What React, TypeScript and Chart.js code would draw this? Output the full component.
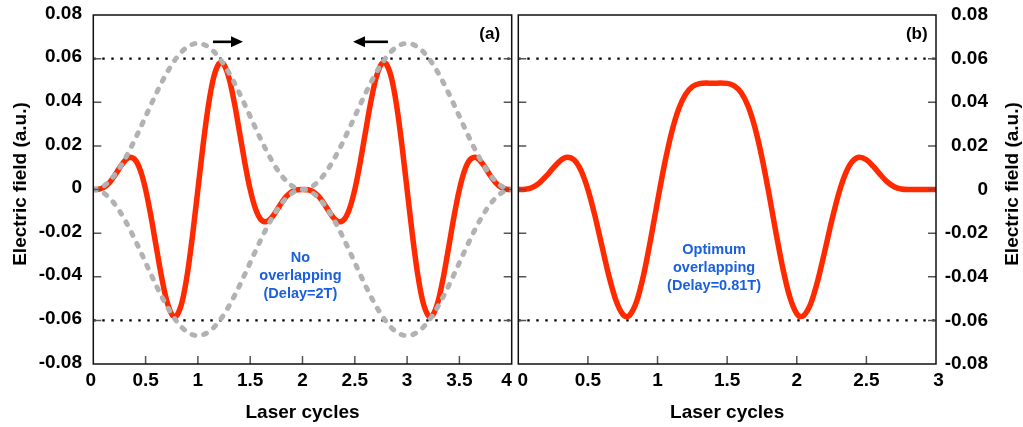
import { useEffect, useRef } from 'react';
import { Chart, registerables } from 'chart.js';

Chart.register(...registerables);

const FONT = '"Liberation Sans", Arial, Helvetica, sans-serif';
const RED = '#ff2a00';
const GRAY = 'rgb(178,178,178)';
const BLUE = '#1a5fdc';

// ---------- Panel (a): No overlapping (Delay = 2T) ----------
const xTicksA = [0, 0.5, 1, 1.5, 2, 2.5, 3, 3.5, 4];
const yTicks = [-0.08, -0.06, -0.04, -0.02, 0, 0.02, 0.04, 0.06, 0.08];
const refLevels = [0.06, -0.06];

const redA: [number, number][] = [
  [0, 0], [0.05, 0.000127], [0.1, 0.000964], [0.15, 0.002954], [0.2, 0.006085], [0.25, 0.009812],
  [0.3, 0.013133], [0.35, 0.014798], [0.4, 0.013606], [0.45, 0.008733], [0.5, 0], [0.55, -0.011971],
  [0.6, -0.025776], [0.65, -0.039407], [0.7, -0.050588], [0.75, -0.057188], [0.78, -0.05826], [0.8, -0.057636],
  [0.85, -0.051251], [0.9, -0.038419], [0.95, -0.020577], [1, 0], [1.05, 0.020577], [1.1, 0.038419],
  [1.15, 0.051251], [1.2, 0.057636], [1.22, 0.05826], [1.25, 0.057188], [1.3, 0.050588], [1.35, 0.039407],
  [1.4, 0.025776], [1.45, 0.011971], [1.5, 0], [1.55, -0.008733], [1.6, -0.013606], [1.65, -0.014798],
  [1.7, -0.013133], [1.75, -0.009812], [1.8, -0.006085], [1.85, -0.002954], [1.9, -0.000964], [1.95, -0.000127],
  [2, 0], [2.05, -0.000127], [2.1, -0.000964], [2.15, -0.002954], [2.2, -0.006085], [2.25, -0.009812],
  [2.3, -0.013133], [2.35, -0.014798], [2.4, -0.013606], [2.45, -0.008733], [2.5, 0], [2.55, 0.011971],
  [2.6, 0.025776], [2.65, 0.039407], [2.7, 0.050588], [2.75, 0.057188], [2.78, 0.05826], [2.8, 0.057636],
  [2.85, 0.051251], [2.9, 0.038419], [2.95, 0.020577], [3, 0], [3.05, -0.020577], [3.1, -0.038419],
  [3.15, -0.051251], [3.2, -0.057636], [3.22, -0.05826], [3.25, -0.057188], [3.3, -0.050588], [3.35, -0.039407],
  [3.4, -0.025776], [3.45, -0.011971], [3.5, 0], [3.55, 0.008733], [3.6, 0.013606], [3.65, 0.014798],
  [3.7, 0.013133], [3.75, 0.009812], [3.8, 0.006085], [3.85, 0.002954], [3.9, 0.000964], [3.95, 0.000127],
  [4, 0],
];

const envUpperA: [number, number][] = [
  [0, 0], [0.05, 0.000412], [0.1, 0.00164], [0.15, 0.003651], [0.2, 0.006398], [0.25, 0.009812],
  [0.3, 0.013809], [0.35, 0.018291], [0.4, 0.023148], [0.45, 0.02826], [0.5, 0.0335], [0.55, 0.03874],
  [0.6, 0.043852], [0.65, 0.048709], [0.7, 0.053191], [0.75, 0.057188], [0.8, 0.060602], [0.85, 0.063349],
  [0.9, 0.065361], [0.95, 0.066588], [1, 0.067], [1.05, 0.066588], [1.1, 0.065361], [1.15, 0.063349],
  [1.2, 0.060602], [1.25, 0.057188], [1.3, 0.053191], [1.35, 0.048709], [1.4, 0.043852], [1.45, 0.03874],
  [1.5, 0.0335], [1.55, 0.02826], [1.6, 0.023148], [1.65, 0.018291], [1.7, 0.013809], [1.75, 0.009812],
  [1.8, 0.006398], [1.85, 0.003651], [1.9, 0.00164], [1.95, 0.000412], [2, 0], [2.05, 0.000412],
  [2.1, 0.00164], [2.15, 0.003651], [2.2, 0.006398], [2.25, 0.009812], [2.3, 0.013809], [2.35, 0.018291],
  [2.4, 0.023148], [2.45, 0.02826], [2.5, 0.0335], [2.55, 0.03874], [2.6, 0.043852], [2.65, 0.048709],
  [2.7, 0.053191], [2.75, 0.057188], [2.8, 0.060602], [2.85, 0.063349], [2.9, 0.065361], [2.95, 0.066588],
  [3, 0.067], [3.05, 0.066588], [3.1, 0.065361], [3.15, 0.063349], [3.2, 0.060602], [3.25, 0.057188],
  [3.3, 0.053191], [3.35, 0.048709], [3.4, 0.043852], [3.45, 0.03874], [3.5, 0.0335], [3.55, 0.02826],
  [3.6, 0.023148], [3.65, 0.018291], [3.7, 0.013809], [3.75, 0.009812], [3.8, 0.006398], [3.85, 0.003651],
  [3.9, 0.00164], [3.95, 0.000412], [4, 0],
];

const envLowerA: [number, number][] = [
  [0, 0], [0.05, -0.000412], [0.1, -0.00164], [0.15, -0.003651], [0.2, -0.006398], [0.25, -0.009812],
  [0.3, -0.013809], [0.35, -0.018291], [0.4, -0.023148], [0.45, -0.02826], [0.5, -0.0335], [0.55, -0.03874],
  [0.6, -0.043852], [0.65, -0.048709], [0.7, -0.053191], [0.75, -0.057188], [0.8, -0.060602], [0.85, -0.063349],
  [0.9, -0.065361], [0.95, -0.066588], [1, -0.067], [1.05, -0.066588], [1.1, -0.065361], [1.15, -0.063349],
  [1.2, -0.060602], [1.25, -0.057188], [1.3, -0.053191], [1.35, -0.048709], [1.4, -0.043852], [1.45, -0.03874],
  [1.5, -0.0335], [1.55, -0.02826], [1.6, -0.023148], [1.65, -0.018291], [1.7, -0.013809], [1.75, -0.009812],
  [1.8, -0.006398], [1.85, -0.003651], [1.9, -0.00164], [1.95, -0.000412], [2, 0], [2.05, -0.000412],
  [2.1, -0.00164], [2.15, -0.003651], [2.2, -0.006398], [2.25, -0.009812], [2.3, -0.013809], [2.35, -0.018291],
  [2.4, -0.023148], [2.45, -0.02826], [2.5, -0.0335], [2.55, -0.03874], [2.6, -0.043852], [2.65, -0.048709],
  [2.7, -0.053191], [2.75, -0.057188], [2.8, -0.060602], [2.85, -0.063349], [2.9, -0.065361], [2.95, -0.066588],
  [3, -0.067], [3.05, -0.066588], [3.1, -0.065361], [3.15, -0.063349], [3.2, -0.060602], [3.25, -0.057188],
  [3.3, -0.053191], [3.35, -0.048709], [3.4, -0.043852], [3.45, -0.03874], [3.5, -0.0335], [3.55, -0.02826],
  [3.6, -0.023148], [3.65, -0.018291], [3.7, -0.013809], [3.75, -0.009812], [3.8, -0.006398], [3.85, -0.003651],
  [3.9, -0.00164], [3.95, -0.000412], [4, 0],
];

// ---------- Panel (b): Optimum overlapping (Delay = 0.81T) ----------
const xTicksB = [0, 0.5, 1, 1.5, 2, 2.5, 3];

const redB: [number, number][] = [
  [0, 0], [0.05, 0.000127], [0.1, 0.000964], [0.15, 0.002954], [0.2, 0.006085], [0.25, 0.009812],
  [0.3, 0.013133], [0.35, 0.014798], [0.4, 0.013606], [0.45, 0.008733], [0.5, 0], [0.55, -0.011971],
  [0.6, -0.025776], [0.65, -0.039407], [0.7, -0.050588], [0.75, -0.057188], [0.78, -0.05826], [0.8, -0.057636],
  [0.85, -0.051317], [0.9, -0.039132], [0.95, -0.023034], [1, -0.005386], [1.05, 0.011515], [1.1, 0.025859],
  [1.15, 0.036592], [1.2, 0.043516], [1.25, 0.047167], [1.3, 0.048551], [1.35, 0.048782], [1.4, 0.048734],
  [1.45, 0.048774], [1.5, 0.048655], [1.55, 0.047588], [1.6, 0.04448], [1.65, 0.038273], [1.7, 0.028312],
  [1.75, 0.014634], [1.8, -0.001879], [1.85, -0.019551], [1.9, -0.036152], [1.95, -0.049295], [2, -0.056909],
  [2.03, -0.05826], [2.05, -0.057806], [2.1, -0.052334], [2.15, -0.041912], [2.2, -0.028587], [2.25, -0.014643],
  [2.3, -0.00217], [2.35, 0.007287], [2.4, 0.012942], [2.45, 0.014822], [2.5, 0.01364], [2.55, 0.010547],
  [2.6, 0.006809], [2.65, 0.003499], [2.7, 0.001263], [2.75, 0.000218], [2.8, 0.000001], [2.85, 0],
  [2.9, 0], [2.95, 0], [3, 0],
];

const Y_TITLE = 'Electric field (a.u.)';
const X_TITLE = 'Laser cycles';
const notesA = ['No', 'overlapping', '(Delay=2T)'];
const notesB = ['Optimum', 'overlapping', '(Delay=0.81T)'];

const pts = (arr: [number, number][]) => arr.map(([x, y]) => ({ x, y }));

const framePlugin = {
  id: 'frameDeco',
  afterDatasetsDraw(chart: any, _args: any, opts: any) {
    const { ctx, chartArea: a } = chart;
    const xs = chart.scales.x;
    const ys = chart.scales.y;
    ctx.save();
    // inward ticks
    ctx.strokeStyle = '#555';
    ctx.lineWidth = 1.5;
    ctx.beginPath();
    for (const t of ys.ticks) {
      if (t.value <= ys.min + 1e-9 || t.value >= ys.max - 1e-9) continue;
      const py = ys.getPixelForValue(t.value);
      ctx.moveTo(a.left, py); ctx.lineTo(a.left + 8, py);
      ctx.moveTo(a.right, py); ctx.lineTo(a.right - 8, py);
    }
    for (const t of xs.ticks) {
      if (t.value <= xs.min + 1e-9 || t.value >= xs.max - 1e-9) continue;
      const px = xs.getPixelForValue(t.value);
      ctx.moveTo(px, a.bottom); ctx.lineTo(px, a.bottom - 8);
    }
    ctx.stroke();
    // frame
    ctx.strokeStyle = '#111';
    ctx.lineWidth = 1.5;
    ctx.strokeRect(a.left, a.top, a.right - a.left, a.bottom - a.top);

    // arrows
    ctx.fillStyle = '#000';
    ctx.strokeStyle = '#000';
    for (const ar of opts.arrows || []) {
      const x1 = xs.getPixelForValue(ar.x1);
      const x2 = xs.getPixelForValue(ar.x2);
      const py = ys.getPixelForValue(ar.y);
      const dir = Math.sign(x2 - x1);
      const head = 12;
      ctx.lineWidth = 2.6;
      ctx.beginPath();
      ctx.moveTo(x1, py);
      ctx.lineTo(x2 - dir * head, py);
      ctx.stroke();
      ctx.beginPath();
      ctx.moveTo(x2, py);
      ctx.lineTo(x2 - dir * head, py - 5.5);
      ctx.lineTo(x2 - dir * head, py + 5.5);
      ctx.closePath();
      ctx.fill();
    }

    // panel label
    if (opts.panel) {
      ctx.font = `bold 17px ${FONT}`;
      ctx.fillStyle = '#000';
      ctx.textAlign = 'center';
      ctx.textBaseline = 'middle';
      ctx.fillText(opts.panel.text, xs.getPixelForValue(opts.panel.x), ys.getPixelForValue(opts.panel.y));
    }

    // notes
    if (opts.note) {
      ctx.font = `bold 14.5px ${FONT}`;
      ctx.fillStyle = BLUE;
      ctx.textAlign = 'center';
      ctx.textBaseline = 'middle';
      const nx = xs.getPixelForValue(opts.note.x);
      const ny = ys.getPixelForValue(opts.note.y);
      opts.note.lines.forEach((s: string, i: number) => ctx.fillText(s, nx, ny + i * 18));
    }

    // y-axis title
    if (opts.yTitle) {
      ctx.font = `bold 19px ${FONT}`;
      ctx.fillStyle = '#000';
      ctx.textAlign = 'center';
      ctx.textBaseline = 'middle';
      ctx.translate(opts.yTitle.x, opts.yTitle.y);
      ctx.rotate(-Math.PI / 2);
      ctx.fillText(Y_TITLE, 0, 0);
    }
    ctx.restore();
  },
};

const tickFont = { family: FONT, size: 19, weight: 'bold' as const };
const yLabel = (v: any) => {
  const r = Math.round(Number(v) * 100) / 100;
  return r === 0 ? '0' : String(r);
};

function lineDs(data: any, color: string, width: number, dash?: number[], cap: CanvasLineCap = 'butt') {
  return {
    data,
    borderColor: color,
    borderWidth: width,
    borderDash: dash || [],
    borderCapStyle: cap,
    pointRadius: 0,
    fill: false,
    cubicInterpolationMode: 'monotone' as const,
  };
}

function makeConfig(panel: 'a' | 'b'): any {
  const isA = panel === 'a';
  const xmax = isA ? 4 : 3;
  const datasets: any[] = [];
  if (isA) {
    datasets.push(lineDs(pts(envUpperA), GRAY, 5, [3, 9], 'round'));
    datasets.push(lineDs(pts(envLowerA), GRAY, 5, [3, 9], 'round'));
    datasets.push(lineDs(pts(redA), RED, 5.5));
  } else {
    datasets.push(lineDs(pts(redB), RED, 5.5));
  }
  for (const lv of refLevels) {
    datasets.push({ ...lineDs([{ x: 0, y: lv }, { x: xmax, y: lv }], '#000', 2.4, [2.4, 6.6]), cubicInterpolationMode: 'default', tension: 0 });
  }
  const xTicks = isA ? xTicksA : xTicksB;
  // small nudges of the edge labels so that "4" and "0" at the panel junction do not touch
  const xLabel = (v: any) => {
    const n = Number(v);
    if (isA && n === 0) return '0 ';
    if (isA && n === 4) return '4  ';
    if (!isA && n === 0) return ' \u20090';
    if (!isA && n === 3) return ' 3';
    return String(n);
  };
  return {
    type: 'line',
    data: { datasets },
    options: {
      animation: false,
      responsive: false,
      maintainAspectRatio: false,
      events: [],
      layout: { padding: isA ? { top: 15, right: 18.3, bottom: 0, left: 0 } : { top: 15, right: 35, bottom: 0, left: 13.3 } },
      plugins: {
        legend: { display: false },
        tooltip: { enabled: false },
        frameDeco: isA
          ? {
              arrows: [
                { x1: 1.144, x2: 1.431, y: 0.0677 },
                { x1: 2.817, x2: 2.483, y: 0.0677 },
              ],
              panel: { text: '(a)', x: 3.79, y: 0.0712 },
              note: { lines: notesA, x: 1.98, y: -0.0315 },
              yTitle: { x: 20.5, y: 184 },
            }
          : {
              arrows: [],
              panel: { text: '(b)', x: 2.862, y: 0.0712 },
              note: { lines: notesB, x: 1.406, y: -0.0278 },
              yTitle: { x: 507.5, y: 184 },
            },
      },
      scales: {
        x: {
          type: 'linear',
          min: 0,
          max: xmax,
          afterBuildTicks: (s: any) => { s.ticks = xTicks.map((v) => ({ value: v })); },
          ticks: { font: tickFont, color: '#000', padding: 5, maxRotation: 0, autoSkip: false, callback: xLabel },
          grid: { display: false, drawTicks: false },
          border: { display: false },
          title: { display: true, text: X_TITLE, color: '#000', font: { family: FONT, size: 19, weight: 'bold' }, padding: { top: 0, bottom: 2.6 } },
          afterFit: (s: any) => { s.height = 63; s.paddingLeft = 0; s.paddingRight = 0; },
        },
        y: {
          type: 'linear',
          position: isA ? 'left' : 'right',
          min: -0.08,
          max: 0.08,
          afterBuildTicks: (s: any) => { s.ticks = yTicks.map((v) => ({ value: v })); },
          ticks: {
            font: tickFont,
            color: '#000',
            padding: isA ? 11.3 : 0,
            crossAlign: isA ? 'near' : 'far',
            labelOffset: isA ? -1.5 : 0,
            autoSkip: false,
            callback: yLabel,
          },
          grid: { display: false, drawTicks: false },
          border: { display: false },
          afterFit: (s: any) => { s.width = isA ? 93.3 : 52; s.paddingTop = 0; s.paddingBottom = 0; },
        },
      },
    },
    plugins: [framePlugin],
  };
}

export default function App() {
  const refA = useRef<HTMLCanvasElement>(null);
  const refB = useRef<HTMLCanvasElement>(null);
  useEffect(() => {
    document.body.style.margin = '0';
    const cA = new Chart(refA.current as HTMLCanvasElement, makeConfig('a'));
    const cB = new Chart(refB.current as HTMLCanvasElement, makeConfig('b'));
    return () => { cA.destroy(); cB.destroy(); };
  }, []);
  return (
    <div style={{ position: 'fixed', left: 0, top: 0, width: 1023, height: 427, background: '#fff', overflow: 'hidden' }}>
      <canvas ref={refA} width={530} height={427} style={{ position: 'absolute', left: 0, top: 0, width: 530, height: 427 }} />
      <canvas ref={refB} width={518} height={427} style={{ position: 'absolute', left: 505, top: 0, width: 518, height: 427 }} />
    </div>
  );
}
